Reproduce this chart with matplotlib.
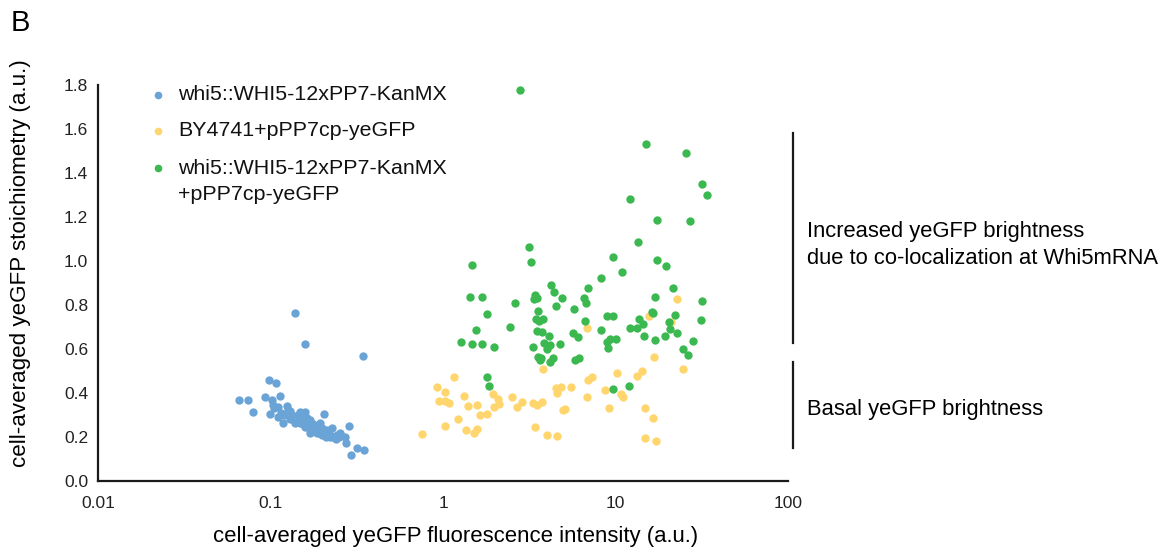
import matplotlib
matplotlib.use("Agg")
import matplotlib.pyplot as plt
from matplotlib.lines import Line2D

plt.rcParams['font.family'] = ['Liberation Sans', 'DejaVu Sans']

# ---------------- data ----------------
series_names = ["whi5::WHI5-12xPP7-KanMX",
                "BY4741+pPP7cp-yeGFP",
                "whi5::WHI5-12xPP7-KanMX\n+pPP7cp-yeGFP"]

blue_x = [0.139, 0.159, 0.345, 0.098, 0.107, 0.0657, 0.0738, 0.0795, 0.0929, 0.113,
          0.1016, 0.1038, 0.111, 0.124, 0.1268, 0.0993, 0.111, 0.1177, 0.1387, 0.1483,
          0.1585, 0.162, 0.1483, 0.1585, 0.169, 0.185, 0.1936, 0.204, 0.198, 0.2116,
          0.226, 0.221, 0.2366, 0.253, 0.27, 0.286, 0.274, 0.316, 0.348, 0.292,
          0.1327, 0.169, 0.177, 0.185, 0.242,
          0.12, 0.13, 0.14, 0.15, 0.155, 0.165, 0.175, 0.18, 0.19, 0.2, 0.21, 0.22,
          0.23, 0.24, 0.25, 0.13, 0.115, 0.105, 0.145, 0.16, 0.2, 0.17]
blue_y = [0.765, 0.624, 0.57, 0.459, 0.444, 0.367, 0.367, 0.312, 0.383, 0.386,
          0.368, 0.345, 0.338, 0.341, 0.323, 0.305, 0.292, 0.262, 0.262, 0.315,
          0.315, 0.285, 0.262, 0.244, 0.232, 0.247, 0.262, 0.305, 0.224, 0.232,
          0.239, 0.201, 0.194, 0.217, 0.201, 0.25, 0.171, 0.149, 0.141, 0.118,
          0.300, 0.277, 0.259, 0.22, 0.209,
          0.30, 0.28, 0.27, 0.29, 0.26, 0.25, 0.24, 0.23, 0.22, 0.21, 0.20, 0.21,
          0.20, 0.19, 0.20, 0.32, 0.31, 0.33, 0.30, 0.27, 0.24, 0.22]

yellow_x = [0.752, 0.919, 1.027, 1.163, 0.952, 1.027, 1.088, 1.323, 1.402, 1.567,
            1.639, 1.807, 1.227, 1.027, 1.353, 1.512, 1.567, 1.958, 2.093, 2.121,
            1.985, 2.5, 2.673, 2.858, 3.31, 3.52, 3.73, 3.41, 3.99, 4.56,
            3.815, 4.5, 4.83, 4.56, 5.5, 4.94, 5.09, 6.8, 6.95, 7.27,
            8.65, 9.2, 10.16, 10.7, 11.1, 13.4, 14.2, 16.8, 14.9, 16.4,
            14.9, 17.2, 24.7, 22.6, 15.7, 20.9, 6.8]
yellow_y = [0.212, 0.429, 0.403, 0.474, 0.365, 0.365, 0.353, 0.386, 0.342, 0.345,
            0.299, 0.303, 0.280, 0.250, 0.232, 0.217, 0.235, 0.394, 0.371, 0.350,
            0.335, 0.383, 0.338, 0.361, 0.353, 0.345, 0.361, 0.247, 0.209, 0.205,
            0.509, 0.424, 0.429, 0.399, 0.429, 0.323, 0.326, 0.383, 0.459, 0.471,
            0.414, 0.330, 0.492, 0.394, 0.380, 0.477, 0.501, 0.562, 0.330, 0.285,
            0.194, 0.183, 0.511, 0.826, 0.75, 0.724, 0.694]

green_x = [2.795,
           1.479, 3.166, 3.22, 9.714, 10.86, 13.45, 8.204, 4.21, 4.40, 6.958,
           4.875, 6.598, 6.745, 4.54, 5.745, 3.415, 3.37, 3.52, 3.54, 1.428,
           1.676, 2.615, 1.807, 1.554, 2.435, 3.445, 3.60, 3.815, 6.657, 8.889,
           9.714, 8.24, 12.14, 13.27, 13.75, 1.266, 1.479, 1.676, 1.975, 3.52,
           3.766, 4.098, 3.34, 3.83, 4.153, 4.026, 4.77, 5.70, 6.035, 8.889,
           9.29, 10.07, 9.01, 3.54, 3.70, 4.36, 4.172, 3.65, 5.823, 6.143,
           15.02, 25.51, 31.87, 34.07, 12.14, 17.48, 27.03, 17.48, 19.62, 21.46,
           16.94, 31.72, 16.21, 16.57, 22.13, 31.46, 14.5, 20.51, 20.7, 22.63,
           14.63, 19.36, 16.94, 28.26, 24.5, 26.43, 9.63, 11.97, 1.807, 1.856]
green_y = [1.777,
           0.983, 1.065, 0.997, 1.017, 0.948, 1.086, 0.923, 0.891, 0.861, 0.876,
           0.832, 0.833, 0.808, 0.795, 0.783, 0.845, 0.826, 0.830, 0.774, 0.838,
           0.836, 0.808, 0.759, 0.688, 0.700, 0.735, 0.729, 0.735, 0.729, 0.752,
           0.752, 0.688, 0.694, 0.697, 0.735, 0.633, 0.621, 0.624, 0.608, 0.682,
           0.679, 0.658, 0.611, 0.626, 0.620, 0.600, 0.624, 0.671, 0.653, 0.633,
           0.644, 0.644, 0.603, 0.565, 0.561, 0.561, 0.542, 0.550, 0.550, 0.561,
           1.532, 1.489, 1.349, 1.300, 1.282, 1.186, 1.183, 1.005, 0.977, 0.877,
           0.838, 0.820, 0.770, 0.765, 0.755, 0.732, 0.714, 0.721, 0.691, 0.671,
           0.661, 0.661, 0.639, 0.638, 0.599, 0.573, 0.418, 0.432, 0.474, 0.432]

colors = ["#6aa3d6", "#ffd66e", "#3bb950"]

x_ticks = [0.01, 0.1, 1, 10, 100]
x_tick_labels = ["0.01", "0.1", "1", "10", "100"]
y_ticks = [0.0, 0.2, 0.4, 0.6, 0.8, 1.0, 1.2, 1.4, 1.6, 1.8]

# ---------------- figure ----------------
W, H = 1166, 551
fig = plt.figure(figsize=(W / 100, H / 100), dpi=100)
ax = fig.add_axes([98 / W, 1 - 481 / H, (788 - 98) / W, (481 - 85) / H])

ms = 36
ax.scatter(blue_x, blue_y, s=ms, color=colors[0], linewidths=0, zorder=3)
ax.scatter(yellow_x, yellow_y, s=ms, color=colors[1], linewidths=0, zorder=3)
ax.scatter(green_x, green_y, s=ms, color=colors[2], linewidths=0, zorder=4)

ax.set_xscale("log")
ax.set_xlim(0.01, 100)
ax.set_ylim(0, 1.8)
ax.set_xticks(x_ticks)
ax.set_xticklabels(x_tick_labels)
ax.set_yticks(y_ticks)
ax.set_yticklabels([f"{v:.1f}" for v in y_ticks])
ax.minorticks_off()
ax.tick_params(axis="both", length=0, labelsize=12.5, colors="#222222")
ax.tick_params(axis="y", pad=7)
ax.tick_params(axis="x", pad=11)
for s in ["top", "right"]:
    ax.spines[s].set_visible(False)
for s in ["left", "bottom"]:
    ax.spines[s].set_linewidth(1.6)
    ax.spines[s].set_color("#1a1a1a")

ax.set_xlabel("cell-averaged yeGFP fluorescence intensity (a.u.)", fontsize=15.9)
ax.set_ylabel("cell-averaged yeGFP stoichiometry (a.u.)", fontsize=16.1)
ax.xaxis.set_label_coords((456 - 98) / 690, (481 - 526) / 396)
ax.yaxis.set_label_coords((31 - 98) / 690, (481 - 263) / 396)

# legend (manual, matching reference layout)
leg_rows_px = [95, 131, 168]
line_step_px = 27
for name, c, ypx in zip(series_names, colors, leg_rows_px):
    fig.add_artist(Line2D([158 / W], [1 - ypx / H], marker="o", linestyle="none",
                          markersize=5.5, markerfacecolor=c, markeredgewidth=0))
    for i, line in enumerate(name.split("\n")):
        fig.text(178 / W, 1 - (ypx + i * line_step_px) / H, line, fontsize=15.4,
                 va="center", ha="left", color="#111111")

# brackets & annotations
bx = 793 / W
fig.add_artist(Line2D([bx, bx], [1 - 133 / H, 1 - 343 / H], color="#1a1a1a", lw=1.6))
fig.add_artist(Line2D([bx, bx], [1 - 362 / H, 1 - 448 / H], color="#1a1a1a", lw=1.6))
fig.text(807 / W, 1 - 231 / H, "Increased yeGFP brightness", fontsize=15.8, va="center", ha="left")
fig.text(807 / W, 1 - 259 / H, "due to co-localization at Whi5mRNA", fontsize=15.8, va="center", ha="left")
fig.text(807 / W, 1 - 409 / H, "Basal yeGFP brightness", fontsize=15.8, va="center", ha="left")

fig.text(11 / W, 1 - 23 / H, "B", fontsize=21, va="center", ha="left")

fig.savefig("out.png", dpi=100)
